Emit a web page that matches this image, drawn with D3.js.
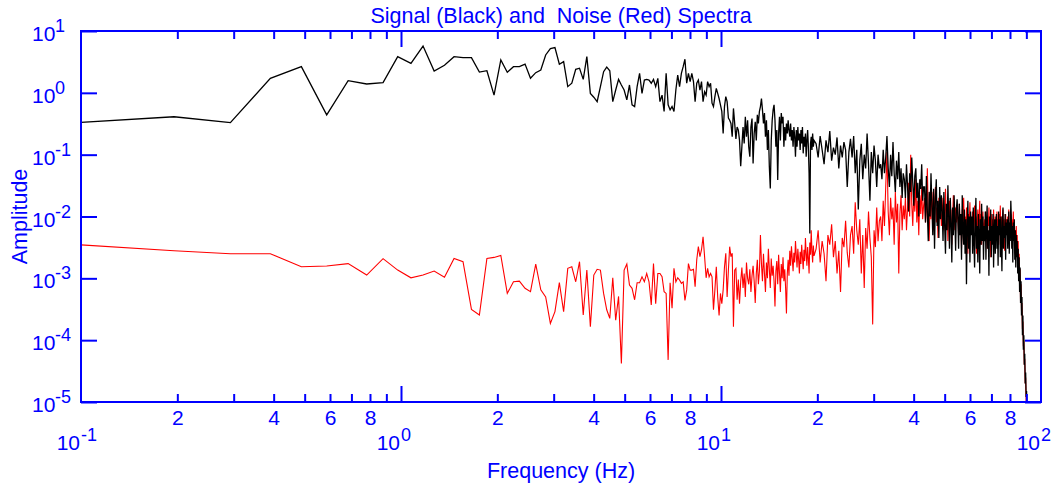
<!DOCTYPE html>
<html>
<head>
<meta charset="utf-8">
<script src="https://cdn.jsdelivr.net/npm/d3@7"></script>
<style>
  body { margin: 0; background: #fff; }
  svg text { font-family: "Liberation Sans", Arial, sans-serif; fill: #0000ff; }
</style>
</head>
<body>
<svg id="chart" width="1062" height="495"></svg>
<script>
// FFT bin width (Hz)
const binWidth = 100 / 1024;

// Signal amplitudes, bins 1..200
const signalLow = [
  0.33, 0.41, 0.33, 1.72, 2.65, 0.44, 1.57, 1.39, 1.46, 3.84,
  3.0, 5.7, 2.25, 2.79, 3.84, 3.7, 3.7, 2.17, 2.28, 0.92,
  3.4, 2.15, 2.65, 2.65, 2.92, 1.72, 2.12, 2.34, 4.1, 5.2,
  5.4, 2.9, 3.2, 1.26, 1.43, 2.4, 2.5, 1.65, 3.85, 0.98,
  0.85, 0.72, 1.26, 2.2, 2.6, 2.28, 0.72, 1.11, 1.65, 1.34,
  1.11, 0.77, 1.34, 0.64, 0.60, 1.26, 2.07, 0.98, 1.61, 1.65,
  1.61, 1.43, 1.65, 1.26, 1.71, 0.72, 0.92, 0.50, 2.07, 0.64,
  0.53, 0.60, 0.50, 1.11, 1.94, 1.26, 2.07, 2.65, 3.5, 1.43,
  2.07, 1.52, 2.07, 1.52, 0.72, 1.43, 1.61, 1.11, 1.52, 0.72,
  1.04, 0.92, 1.52, 1.26, 1.43, 0.68, 0.60, 0.87, 1.18, 0.98,
  0.81, 0.64, 0.50, 0.22, 0.60, 0.87, 0.72, 0.39, 0.36, 0.32,
  0.195, 0.56, 0.32, 0.18, 0.28, 0.25, 0.17, 0.065, 0.135, 0.28,
  0.152, 0.41, 0.195, 0.36, 0.135, 0.093, 0.28, 0.385, 0.072, 0.22,
  0.34, 0.17, 0.44, 0.32, 0.5, 0.6, 0.81, 0.53, 0.32, 0.47,
  0.195, 0.36, 0.119, 0.25, 0.064, 0.0285, 0.17, 0.36, 0.53, 0.64,
  0.36, 0.135, 0.25, 0.039, 0.22, 0.41, 0.17, 0.47, 0.32, 0.41,
  0.135, 0.28, 0.17, 0.32, 0.22, 0.36, 0.25, 0.195, 0.32, 0.17,
  0.25, 0.135, 0.28, 0.195, 0.093, 0.25, 0.135, 0.28, 0.17, 0.22,
  0.119, 0.25, 0.152, 0.28, 0.105, 0.195, 0.135, 0.22, 0.093, 0.17,
  0.25, 0.135, 0.05, 0.0053, 0.152, 0.195, 0.119, 0.22, 0.135, 0.17
];

// Noise amplitudes, bins 1..200
const noiseLow = [
  0.0035, 0.0028, 0.0025, 0.0025, 0.00154, 0.00158, 0.00173, 0.00113, 0.00208, 0.00136,
  0.00102, 0.00113, 0.00131, 0.00104, 0.0021, 0.00186, 0.000315, 0.000255, 0.0021, 0.00218,
  0.00235, 0.00057, 0.00088, 0.0009, 0.00069, 0.00061, 0.0017, 0.00065, 0.0005, 0.000187,
  0.00029, 0.00085, 0.00029, 0.00145, 0.00154, 0.00088, 0.00186, 0.000255, 0.00136, 0.000165,
  0.00113, 0.0014, 0.00136, 0.00057, 0.00031, 0.000225, 0.00102, 0.00021, 0.00051, 0.000042,
  0.00136, 0.0017, 0.00078, 0.00069, 0.00045, 0.00085, 0.00085, 0.00106, 0.00088, 0.0012,
  0.00088, 0.00037, 0.00173, 0.00039, 0.0012, 0.0012, 0.00106, 0.00061, 0.00057, 0.000048,
  0.00085, 0.00033, 0.00145, 0.00088, 0.00102, 0.00094, 0.00083, 0.00088, 0.00044, 0.00065,
  0.00173, 0.00136, 0.00136, 0.0014, 0.00073, 0.002, 0.00325, 0.00224, 0.0029, 0.0047,
  0.00224, 0.00102, 0.00145, 0.00106, 0.0012, 0.00106, 0.00031, 0.00065, 0.00154, 0.0005,
  0.00025, 0.00057, 0.00039, 0.00065, 0.00154, 0.00255, 0.0005, 0.00136, 0.00325, 0.00224,
  0.00255, 0.000165, 0.00136, 0.00145, 0.00045, 0.00096, 0.00039, 0.0009, 0.0015, 0.0007,
  0.0012, 0.0005, 0.0018, 0.001, 0.0008, 0.0014, 0.0006, 0.0011, 0.0016, 0.0009,
  0.0004, 0.0012, 0.002, 0.0008, 0.0013, 0.005, 0.0017, 0.0009, 0.0025, 0.0012,
  0.0006, 0.0018, 0.001, 0.003, 0.0014, 0.0007, 0.0021, 0.0011, 0.0016, 0.0009,
  0.00035, 0.0013, 0.0019, 0.0008, 0.0024, 0.0012, 0.0006, 0.0017, 0.001, 0.0022,
  0.0009, 0.0014, 0.0007, 0.00027, 0.0012, 0.002, 0.0011, 0.0028, 0.0016, 0.0033,
  0.0021, 0.0013, 0.0026, 0.0018, 0.004, 0.0024, 0.0015, 0.003, 0.002, 0.0012,
  0.0027, 0.0017, 0.0035, 0.0022, 0.0014, 0.0029, 0.0019, 0.0045, 0.0025, 0.0016,
  0.0032, 0.0021, 0.0012, 0.0038, 0.0024, 0.006, 0.0028, 0.0018, 0.0034, 0.0023
];

// Upper band: every third bin from 203 to 938
const highStartBin = 203;
const highBinStep = 3;

const signalHigh = [
  0.15, 0.09, 0.2, 0.12, 0.07, 0.17, 0.11, 0.24, 0.08, 0.13, 0.1, 0.19, 0.06, 0.14, 0.09, 0.16, 0.12, 0.03, 0.11, 0.18,
  0.09, 0.2, 0.05, 0.12, 0.013, 0.08, 0.15, 0.04, 0.1, 0.06, 0.22, 0.07, 0.018, 0.11, 0.05, 0.14, 0.08, 0.03, 0.1, 0.06,
  0.07, 0.04, 0.12, 0.05, 0.09, 0.2, 0.06, 0.03, 0.1, 0.045, 0.16, 0.05, 0.025, 0.08, 0.04, 0.11, 0.03, 0.06, 0.02, 0.05,
  0.04, 0.02, 0.07, 0.03, 0.012, 0.05, 0.025, 0.09, 0.035, 0.015, 0.045, 0.06, 0.02, 0.035, 0.01, 0.04, 0.028, 0.07, 0.018, 0.03,
  0.03, 0.008, 0.045, 0.012, 0.004, 0.025, 0.01, 0.05, 0.015, 0.005, 0.028, 0.003, 0.02, 0.04, 0.007, 0.018, 0.0045, 0.03, 0.009, 0.022,
  0.012, 0.004, 0.025, 0.007, 0.0025, 0.016, 0.006, 0.032, 0.01, 0.003, 0.02, 0.008, 0.0018, 0.014, 0.005, 0.022, 0.009, 0.0028, 0.013, 0.019,
  0.009, 0.003, 0.016, 0.005, 0.011, 0.002, 0.022, 0.006, 0.0035, 0.013, 0.0025, 0.009, 0.0008, 0.007, 0.018, 0.003, 0.01, 0.0018, 0.012, 0.005,
  0.01, 0.0025, 0.014, 0.004, 0.0015, 0.008, 0.02, 0.003, 0.007, 0.0018, 0.011, 0.005, 0.0012, 0.009, 0.0035, 0.016, 0.004, 0.01, 0.002, 0.007,
  0.004, 0.012, 0.002, 0.008, 0.015, 0.003, 0.006, 0.0011, 0.01, 0.004, 0.013, 0.0022, 0.007, 0.0035, 0.011, 0.0015, 0.006, 0.009, 0.0025, 0.008,
  0.011, 0.003, 0.007, 0.0016, 0.012, 0.005, 0.009, 0.0022, 0.01, 0.004, 0.0013, 0.008, 0.014, 0.003, 0.007, 0.0045, 0.011, 0.002, 0.008, 0.005,
  0.009, 0.003, 0.007, 0.012, 0.0025, 0.008, 0.004, 0.018, 0.01, 0.003, 0.007, 0.0018, 0.008, 0.004, 0.009, 0.002, 0.006, 0.0015, 0.005, 0.0022,
  0.004, 0.0012, 0.003, 0.0009, 0.0022, 0.0006, 0.0015, 0.0004, 0.0009, 0.00025, 0.0005, 0.00012, 0.00025, 0.00007, 0.00012, 0.00004, 0.00006, 0.00002, 0.00003, 0.000012,
  0.000015, 0.000006, 0.000008, 0.000004, 0.000005, 0.000002
];

const noiseHigh = [
  0.003, 0.006, 0.0018, 0.004, 0.0025, 0.0009, 0.005, 0.0035, 0.0075, 0.0022, 0.004, 0.0012, 0.0028, 0.0006, 0.0045, 0.0032, 0.0085, 0.0026, 0.0015, 0.005,
  0.007, 0.0025, 0.017, 0.006, 0.0035, 0.009, 0.0012, 0.005, 0.0007, 0.0065, 0.003, 0.012, 0.0045, 0.0022, 0.00018, 0.006, 0.0032, 0.014, 0.004, 0.0085,
  0.01, 0.004, 0.018, 0.007, 0.03, 0.11, 0.012, 0.005, 0.02, 0.009, 0.014, 0.0035, 0.025, 0.008, 0.016, 0.0012, 0.011, 0.022, 0.006, 0.015,
  0.009, 0.02, 0.006, 0.014, 0.035, 0.01, 0.1, 0.016, 0.007, 0.025, 0.012, 0.04, 0.008, 0.018, 0.005, 0.022, 0.011, 0.03, 0.009, 0.015,
  0.02, 0.008, 0.013, 0.06, 0.01, 0.004, 0.018, 0.009, 0.025, 0.012, 0.006, 0.016, 0.03, 0.008, 0.014, 0.0045, 0.02, 0.01, 0.015, 0.007,
  0.012, 0.02, 0.006, 0.01, 0.028, 0.008, 0.015, 0.004, 0.011, 0.018, 0.007, 0.013, 0.0035, 0.009, 0.022, 0.01, 0.006, 0.014, 0.008, 0.012,
  0.009, 0.005, 0.016, 0.007, 0.011, 0.003, 0.013, 0.008, 0.02, 0.006, 0.01, 0.0045, 0.014, 0.007, 0.0025, 0.011, 0.008, 0.017, 0.005, 0.009,
  0.007, 0.012, 0.004, 0.009, 0.015, 0.006, 0.01, 0.0025, 0.008, 0.013, 0.005, 0.009, 0.018, 0.006, 0.011, 0.0035, 0.008, 0.012, 0.005, 0.007,
  0.009, 0.005, 0.012, 0.0065, 0.003, 0.01, 0.007, 0.014, 0.005, 0.008, 0.0022, 0.011, 0.006, 0.009, 0.004, 0.013, 0.007, 0.0035, 0.01, 0.006,
  0.008, 0.012, 0.005, 0.009, 0.0035, 0.011, 0.007, 0.015, 0.006, 0.01, 0.004, 0.008, 0.013, 0.005, 0.009, 0.0028, 0.007, 0.011, 0.006, 0.009,
  0.005, 0.01, 0.007, 0.013, 0.004, 0.008, 0.006, 0.011, 0.005, 0.009, 0.0032, 0.007, 0.012, 0.005, 0.008, 0.0025, 0.006, 0.004, 0.007, 0.003,
  0.005, 0.0015, 0.004, 0.0011, 0.0025, 0.0007, 0.0014, 0.0004, 0.0008, 0.0003, 0.0004, 0.00015, 0.0002, 0.00008, 0.0001, 0.00004, 0.00005, 0.00002, 0.000025, 0.00001,
  0.000012, 0.000006, 0.000008, 0.000004, 0.000005, 0.000002
];

// Axis ticks and labels
const xMajorTicks = [0.1, 1, 10, 100];
const xMajorExponents = ["-1", "0", "1", "2"];
const xMinorMultipliers = [2, 3, 4, 5, 6, 7, 8, 9];
const xMinorLabelled = [2, 4, 6, 8];
const yTicks = [1e-5, 1e-4, 1e-3, 1e-2, 1e-1, 1, 10];
const yExponents = ["-5", "-4", "-3", "-2", "-1", "0", "1"];

const titleText = "Signal (Black) and\u00a0 Noise (Red) Spectra";
const xTitle = "Frequency (Hz)";
const yTitle = "Amplitude";

// Layout
const plotLeft = 81, plotRight = 1041, plotTop = 31, plotBottom = 402;
const blue = "#0000ff";

const svg = d3.select("#chart");

const x = d3.scaleLog().domain([0.1, 100]).range([plotLeft, plotRight]);
const y = d3.scaleLog().domain([1e-5, 10]).range([plotBottom, plotTop]);

function toPoints(lowVals, highVals) {
  const pts = lowVals.map((v, i) => [(i + 1) * binWidth, v]);
  highVals.forEach((v, i) => pts.push([(highStartBin + i * highBinStep) * binWidth, v]));
  return pts;
}

const signal = toPoints(signalLow, signalHigh);
const noise = toPoints(noiseLow, noiseHigh);

svg.append("clipPath").attr("id", "plot-clip")
  .append("rect").attr("x", plotLeft).attr("y", plotTop)
  .attr("width", plotRight - plotLeft).attr("height", plotBottom - plotTop);

const line = d3.line().x(d => x(d[0])).y(d => y(d[1]));

const plot = svg.append("g").attr("clip-path", "url(#plot-clip)");
plot.append("path").datum(noise).attr("d", line)
  .attr("fill", "none").attr("stroke", "#ff0000").attr("stroke-width", 1.1);
plot.append("path").datum(signal).attr("d", line)
  .attr("fill", "none").attr("stroke", "#000000").attr("stroke-width", 1.3);

// Tick positions
const minorVals = [];
[0.1, 1, 10].forEach(dec => xMinorMultipliers.forEach(m => minorVals.push(+(dec * m).toPrecision(3))));
const innerMajor = [1, 10];

function styleAxis(g) {
  g.select(".domain").remove();
  g.selectAll(".tick line").attr("stroke", blue).attr("stroke-width", 2);
}

const minorLabel = d => {
  const lead = Math.round(d / Math.pow(10, Math.floor(Math.log10(d) + 1e-9)));
  return xMinorLabelled.includes(lead) ? String(lead) : "";
};

// Bottom axis: minor ticks with labels, major ticks
svg.append("g").attr("transform", `translate(0,${plotBottom})`)
  .call(d3.axisBottom(x).tickValues(minorVals).tickSize(-8).tickPadding(8).tickFormat(minorLabel))
  .call(styleAxis)
  .call(g => g.selectAll("text").attr("fill", blue).style("font-size", "21px")
    .style("font-family", "'Liberation Sans', Arial, sans-serif"));
svg.append("g").attr("transform", `translate(0,${plotBottom})`)
  .call(d3.axisBottom(x).tickValues(innerMajor).tickSize(-16).tickFormat(""))
  .call(styleAxis);

// Top axis
svg.append("g").attr("transform", `translate(0,${plotTop})`)
  .call(d3.axisTop(x).tickValues(minorVals).tickSize(-8).tickFormat(""))
  .call(styleAxis);
svg.append("g").attr("transform", `translate(0,${plotTop})`)
  .call(d3.axisTop(x).tickValues(innerMajor).tickSize(-16).tickFormat(""))
  .call(styleAxis);

// Left and right axes
svg.append("g").attr("transform", `translate(${plotLeft},0)`)
  .call(d3.axisLeft(y).tickValues(yTicks).tickSize(-16).tickFormat(""))
  .call(styleAxis);
svg.append("g").attr("transform", `translate(${plotRight},0)`)
  .call(d3.axisRight(y).tickValues(yTicks).tickSize(-16).tickFormat(""))
  .call(styleAxis);

// Frame
svg.append("rect").attr("x", plotLeft).attr("y", plotTop)
  .attr("width", plotRight - plotLeft).attr("height", plotBottom - plotTop)
  .attr("fill", "none").attr("stroke", blue).attr("stroke-width", 2);

// Decade labels on x
xMajorTicks.forEach((t, i) => {
  svg.append("text").attr("x", x(t) - 1).attr("y", plotBottom + 48)
    .attr("text-anchor", "end").style("font-size", "21px").text("10");
  svg.append("text").attr("x", x(t)).attr("y", plotBottom + 39)
    .attr("text-anchor", "start").style("font-size", "18px").text(xMajorExponents[i]);
});

// Decade labels on y
yTicks.forEach((t, i) => {
  svg.append("text").attr("x", 32).attr("y", y(t) + 10)
    .style("font-size", "21px").text("10");
  svg.append("text").attr("x", 55).attr("y", y(t) + 1)
    .style("font-size", "18px").text(yExponents[i]);
});

// Titles
svg.append("text").attr("x", 561).attr("y", 23).attr("text-anchor", "middle")
  .style("font-size", "21.5px").text(titleText);
svg.append("text").attr("x", 561).attr("y", 478).attr("text-anchor", "middle")
  .style("font-size", "21.5px").text(xTitle);
svg.append("text").attr("transform", `translate(26.5,${(plotTop + plotBottom) / 2}) rotate(-90)`)
  .attr("text-anchor", "middle").style("font-size", "21.5px").text(yTitle);
</script>
</body>
</html>
